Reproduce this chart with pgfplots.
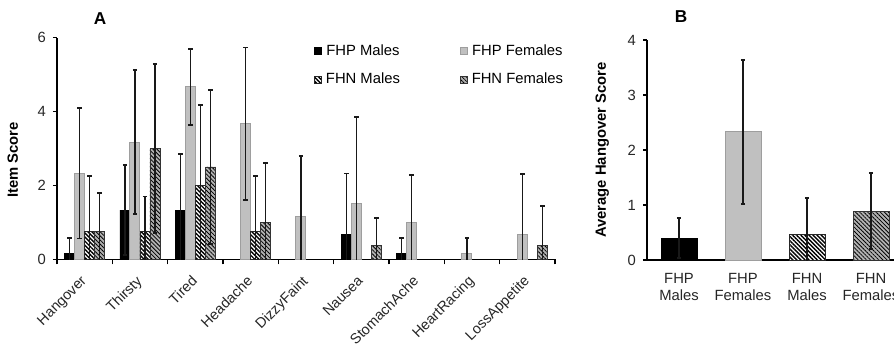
\documentclass[border=0pt]{standalone}
\usepackage{fontspec}
\setmainfont{Liberation Sans}
\usepackage{pgfplots}
\pgfplotsset{compat=1.18}
\usepackage{pgfplotstable}
\usetikzlibrary{patterns.meta}

\definecolor{fhpf}{RGB}{192,192,192}
\definecolor{fhpfedge}{RGB}{158,158,158}
\definecolor{fhnf}{RGB}{178,178,178}

% Panel A data: category index, mean, error
\pgfplotstableread{
x y e
0 0.17 0.41
1 1.33 1.22
2 1.33 1.52
5 0.67 1.65
6 0.17 0.41
}\fhpm
\pgfplotstableread{
x y e
0 2.33 1.77
1 3.17 1.95
2 4.67 1.03
3 3.67 2.06
4 1.17 1.62
5 1.50 2.35
6 1.00 1.28
7 0.17 0.41
8 0.67 1.64
}\fhpf
\pgfplotstableread{
x y e
0 0.75 1.51
1 0.75 0.95
2 2.00 2.18
3 0.75 1.51
}\fhnm
\pgfplotstableread{
x y e
0 0.75 1.05
1 3.00 2.28
2 2.50 2.08
3 1.00 1.61
5 0.38 0.74
8 0.38 1.06
}\fhnf

\begin{document}
\begin{tikzpicture}
\pgfplotsset{
  sq/.style={legend image code/.code={\draw[##1] (0pt,-1.7pt) rectangle (3.4pt,1.7pt);}},
  stFHPM/.style={fill=black, draw=black, line width=0.4pt},
  stFHPF/.style={fill=fhpf, draw=fhpfedge, line width=0.5pt},
  stFHNM/.style={fill=white, draw=black!85, line width=0.4pt,
     postaction={pattern={Lines[angle=-45,distance=1.45pt,line width=0.7pt]}, pattern color=black}},
  stFHNF/.style={fill=fhnf, draw=black!80, line width=0.4pt,
     postaction={pattern={Lines[angle=-45,distance=1.45pt,line width=0.4pt]}, pattern color=black}},
  errs/.style={error bars/.cd, y dir=both, y explicit,
     error bar style={line width=0.65pt, black!90},
     error mark options={rotate=90, line width=0.8pt, mark size=1.1pt, black!90}},
  base/.style={
     scale only axis, enlargelimits=false,
     axis x line*=bottom, axis y line*=left,
     axis line style={line width=0.7pt, black},
     tick align=outside,
     /pgf/number format/assume math mode=true,
     tick label style={font=\fontsize{7.4}{8.6}\selectfont, black!85},
     ytick style={line width=0.6pt, black},
     major tick length=2pt,
  },
}
% ---------------- Panel A ----------------
\begin{axis}[base,
  at={(28.5pt,44.85pt)}, anchor=south west,
  width=249pt, height=110.8pt,
  xmin=-0.5, xmax=8.5, ymin=0, ymax=6,
  ytick={0,2,4,6},
  xtick={0,...,8},
  xticklabels={Hangover,Thirsty,Tired,Headache,DizzyFaint,Nausea,StomachAche,HeartRacing,LossAppetite},
  x tick label style={rotate=45, anchor=north east, font=\fontsize{7.2}{8.6}\selectfont, xshift=-2.2pt, yshift=1.1pt},
  major x tick style={draw=none},
  minor xtick={-0.5,0.5,...,8.5},
  minor x tick style={line width=0.6pt, black},
  minor tick length=2.5pt,
  ylabel={Item Score},
  ylabel style={font=\bfseries\fontsize{7.4}{8.6}\selectfont, at={(axis description cs:0,0.448)}, anchor=south, yshift=16pt},
  ybar=0pt, bar width=5pt,
  legend columns=2,
  legend style={draw=none, fill=none, at={(axis description cs:0.516,0.99)}, anchor=north west,
     font=\fontsize{7.4}{8.6}\selectfont,
     /tikz/every even column/.append style={column sep=28pt},
     row sep=3.5pt, inner sep=0pt},
]
\addplot[stFHPM, sq, errs] table[x=x, y=y, y error=e] {\fhpm};
\addplot[stFHPF, sq, errs] table[x=x, y=y, y error=e] {\fhpf};
\addplot[stFHNM, sq, errs] table[x=x, y=y, y error=e] {\fhnm};
\addplot[stFHNF, sq, errs] table[x=x, y=y, y error=e] {\fhnf};
\legend{FHP Males, FHP Females, FHN Males, FHN Females}
\end{axis}
% ---------------- Panel B ----------------
\begin{axis}[base,
  at={(323.5pt,44.5pt)}, anchor=south west,
  width=128pt, height=110pt,
  xmin=-0.5, xmax=3.5, ymin=0, ymax=4,
  ytick={0,1,2,3,4},
  xtick={0,1,2,3},
  xticklabels={{FHP\\Males},{FHP\\Females},{FHN\\Males},{FHN\\Females}},
  x tick label style={align=center, yshift=-1pt},
  major x tick style={draw=none},
  ylabel={Average Hangover Score},
  ylabel style={font=\bfseries\fontsize{7.4}{8.6}\selectfont, at={(axis description cs:0,0.5)}, anchor=south, yshift=15.5pt},
]
\addplot[ybar, bar width=18pt, bar shift=0pt, stFHPM, errs] coordinates {(0,0.40) +- (0,0.36)};
\addplot[ybar, bar width=18pt, bar shift=0pt, stFHPF, errs] coordinates {(1,2.33) +- (0,1.31)};
\addplot[ybar, bar width=18pt, bar shift=0pt, stFHNM, errs] coordinates {(2,0.47) +- (0,0.66)};
\addplot[ybar, bar width=18pt, bar shift=0pt, stFHNF, errs] coordinates {(3,0.89) +- (0,0.69)};
\end{axis}
\node[font=\bfseries\fontsize{8.6}{10}\selectfont] at (50pt,165pt) {A};
\node[font=\bfseries\fontsize{8.6}{10}\selectfont] at (340.5pt,166pt) {B};
\pgfresetboundingbox
\useasboundingbox (0,0) rectangle (447pt,174.5pt);
\end{tikzpicture}
\end{document}
